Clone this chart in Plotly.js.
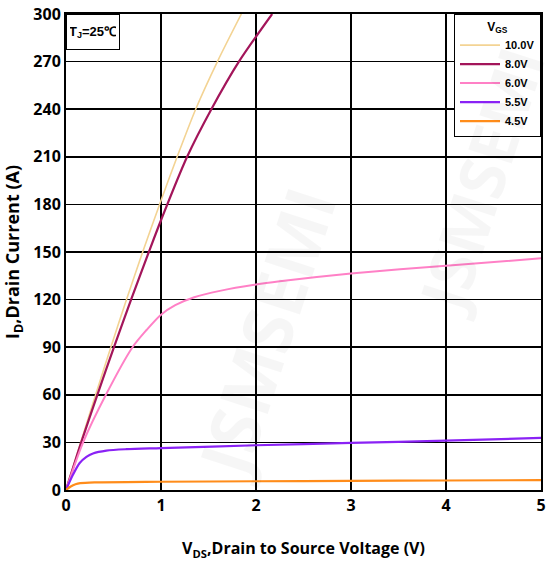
<!DOCTYPE html>
<html>
<head>
<meta charset="utf-8">
<script src="https://cdn.plot.ly/plotly-3.0.1.min.js"></script>
<style>html,body{margin:0;padding:0;background:#fff;}#chart{width:547px;height:565px;}</style>
</head>
<body>
<div id="chart"></div>
<script>
// VGS = 10.0 V
const v10_x = [0, 0.155, 0.312, 0.472, 0.637, 0.807, 0.985, 1.17, 1.365, 1.594, 1.846];
const v10_y = [0, 30, 60, 90, 120, 150, 180, 210, 240, 270, 300];
// VGS = 8.0 V
const v8_x = [0, 0.16, 0.33, 0.505, 0.685, 0.872, 1.0, 1.275, 1.53, 1.82, 2.17];
const v8_y = [0, 30, 60, 90, 120, 150, 170, 210, 240, 270, 300];
// VGS = 6.0 V
const v6_x = [0, 0.18, 0.42, 0.70, 0.85, 1.0, 1.15, 1.35, 1.62, 2.0, 2.25, 3.0, 4.0, 5.0];
const v6_y = [0, 30, 60, 90, 101, 110.5, 116.5, 121.5, 125.5, 129.5, 131.5, 136.4, 141.4, 146];
// VGS = 5.5 V
const v55_x = [0, 0.074, 0.144, 0.215, 0.284, 0.425, 0.636, 1.0, 2.0, 3.0, 4.0, 5.0];
const v55_y = [0, 9.7, 17, 20.9, 23, 24.8, 25.7, 26.4, 28.2, 29.7, 31.1, 32.8];
// VGS = 4.5 V
const v45_x = [0, 0.05, 0.1, 0.15, 0.3, 1.0, 2.0, 3.0, 4.0, 5.0];
const v45_y = [0, 2.2, 3.6, 4.3, 4.8, 5.2, 5.5, 5.8, 6.0, 6.2];

const names = ['10.0V', '8.0V', '6.0V', '5.5V', '4.5V'];
const colors = ['#f3d393', '#a3155a', '#ff80c6', '#8a22f5', '#ff8c1a'];
const widths = [1.6, 2.2, 2, 2.2, 2.2];
const xs = [v10_x, v8_x, v6_x, v55_x, v45_x];
const ys = [v10_y, v8_y, v6_y, v55_y, v45_y];

const traces = names.map((n, i) => ({
  x: xs[i], y: ys[i], name: n, type: 'scatter', mode: 'lines',
  line: {color: colors[i], width: widths[i], shape: 'spline', smoothing: 0.8}
}));

const tickFont = {family: 'Open Sans, Liberation Sans, sans-serif', size: 16, color: '#000', weight: 'bold'};

const layout = {
  width: 547, height: 565,
  margin: {l: 66, r: 6, t: 14, b: 75},
  paper_bgcolor: '#fff', plot_bgcolor: '#fff',
  showlegend: true,
  legend: {
    x: 1, xanchor: 'right', y: 1, yanchor: 'top',
    bgcolor: '#fff', bordercolor: '#000', borderwidth: 1,
    font: {family: 'Liberation Sans, Arial, sans-serif', size: 11, color: '#000', weight: 'bold'},
    title: {text: 'V<sub>GS</sub>', side: 'top center', font: {family: 'Liberation Sans, Arial, sans-serif', size: 12, color: '#000', weight: 'bold'}},
    itemwidth: 40, tracegroupgap: 0
  },
  xaxis: {
    range: [0, 5], dtick: 1, tick0: 0,
    showgrid: true, gridcolor: '#000', gridwidth: 1.5,
    showline: true, linecolor: '#000', linewidth: 2, mirror: true,
    zeroline: false, ticks: '', tickfont: tickFont,
    title: {text: 'V<sub>DS</sub>,Drain to Source Voltage (V)', standoff: 28,
            font: {family: 'Open Sans, Liberation Sans, sans-serif', size: 16, color: '#000', weight: 'bold'}}
  },
  yaxis: {
    range: [0, 300], dtick: 30, tick0: 0,
    showgrid: true, gridcolor: '#000', gridwidth: 1.5,
    showline: true, linecolor: '#000', linewidth: 2, mirror: true,
    zeroline: false, ticks: '', tickfont: tickFont,
    title: {text: 'I<sub>D</sub>,Drain Current (A)', standoff: 10,
            font: {family: 'Open Sans, Liberation Sans, sans-serif', size: 18, color: '#000', weight: 'bold'}}
  },
  annotations: [
    {xref: 'paper', yref: 'paper', x: 0, y: 1, xanchor: 'left', yanchor: 'top',
     text: 'T<sub>J</sub>=25℃', showarrow: false, bgcolor: '#fff',
     width: 46, height: 28, borderpad: 3,
     bordercolor: '#000', borderwidth: 1,
     font: {family: 'Liberation Sans, Arial, sans-serif', size: 13, color: '#000', weight: 'bold'}},
    {xref: 'paper', yref: 'paper', x: 0.42, y: 0.33, xanchor: 'center', yanchor: 'middle',
     text: 'JSMSEMI', showarrow: false, textangle: -72,
     font: {family: 'Open Sans, sans-serif', size: 70, color: 'rgba(0,0,0,0.035)', weight: 'bold'}},
    {xref: 'paper', yref: 'paper', x: 0.872, y: 0.651, xanchor: 'center', yanchor: 'middle',
     text: 'JSMSEMI', showarrow: false, textangle: -72,
     font: {family: 'Open Sans, sans-serif', size: 64, color: 'rgba(0,0,0,0.035)', weight: 'bold'}}
  ]
};

Plotly.newPlot('chart', traces, layout, {displayModeBar: false, staticPlot: true});
</script>
</body>
</html>
